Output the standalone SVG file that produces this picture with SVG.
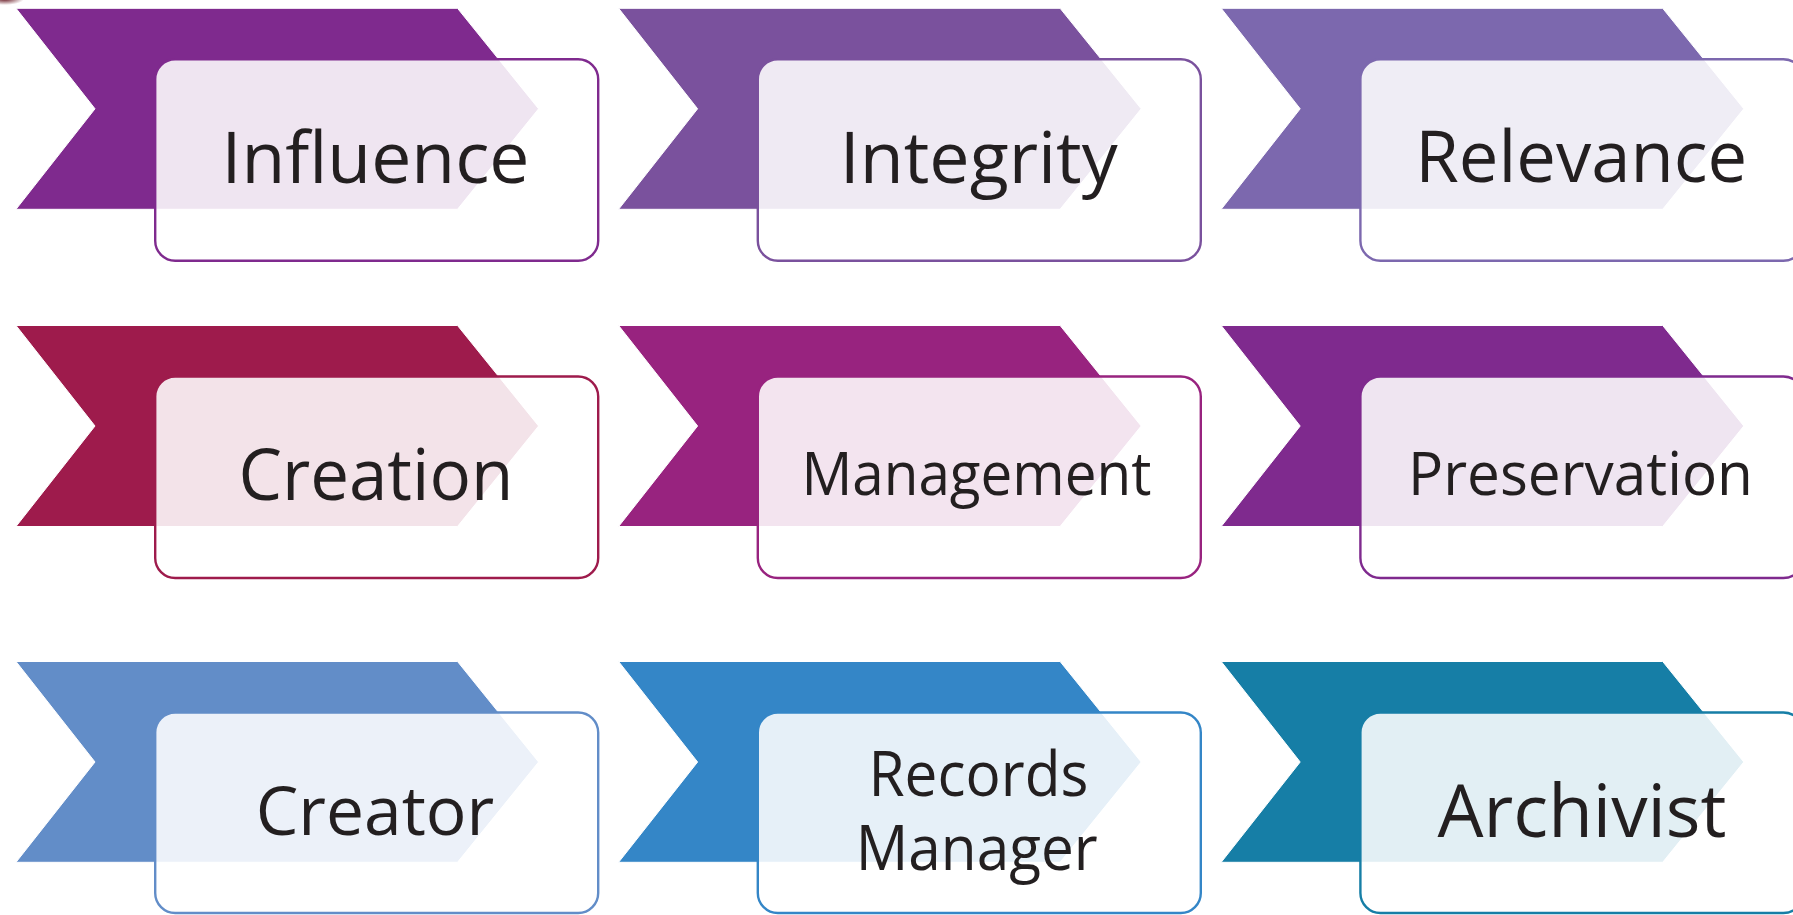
<svg xmlns="http://www.w3.org/2000/svg" width="1793" height="915" viewBox="0 0 1793 915">
<defs>
<style>
.chev{stroke:#ffffff;stroke-width:1}
.box{fill:#ffffff;fill-opacity:0.88;stroke-width:2.4}
.lbl{font-family:"Open Sans","Noto Sans","DejaVu Sans",sans-serif;fill:#231f20}
</style>
<radialGradient id="blob" cx="0.4" cy="0.3" r="0.6">
<stop offset="0" stop-color="#5e0b16" stop-opacity="0.95"/>
<stop offset="1" stop-color="#5e0b16" stop-opacity="0"/>
</radialGradient>
</defs>
<rect width="1793" height="915" fill="#ffffff"/>
<ellipse cx="8" cy="1" rx="16" ry="5" fill="url(#blob)"/>
<g id="connectors"/>

<g id="influence">
<polygon class="chev" fill="#7f2a8e" points="16,8.3 457.5,8.3 538.6,108.8 457.5,209.3 16,209.3 95,108.8"/>
<rect class="box" stroke="#7f2a8e" x="155.2" y="59.3" width="443" height="201.5" rx="20"/>
<text class="lbl" x="221.5" y="182.7" font-size="72" textLength="308" lengthAdjust="spacingAndGlyphs">Influence</text>
</g>

<g id="integrity">
<polygon class="chev" fill="#7a519d" points="618.6,8.3 1060.1,8.3 1141.2,108.8 1060.1,209.3 618.6,209.3 697.6,108.8"/>
<rect class="box" stroke="#7a519d" x="757.8" y="59.3" width="443" height="201.5" rx="20"/>
<text class="lbl" x="839.7" y="182.7" font-size="72" textLength="278" lengthAdjust="spacingAndGlyphs">Integrity</text>
</g>

<g id="relevance">
<polygon class="chev" fill="#7c68ae" points="1221.2,8.3 1662.7,8.3 1743.8,108.8 1662.7,209.3 1221.2,209.3 1300.2,108.8"/>
<rect class="box" stroke="#7c68ae" x="1360.4" y="59.3" width="443" height="201.5" rx="20"/>
<text class="lbl" x="1415.2" y="182.2" font-size="72" textLength="332" lengthAdjust="spacingAndGlyphs">Relevance</text>
</g>

<g id="creation">
<polygon class="chev" fill="#9e1b4c" points="16,325.5 457.5,325.5 538.6,426 457.5,526.5 16,526.5 95,426"/>
<rect class="box" stroke="#9e1b4c" x="155.2" y="376.5" width="443" height="201.5" rx="20"/>
<text class="lbl" x="238.4" y="500" font-size="72" textLength="275" lengthAdjust="spacingAndGlyphs">Creation</text>
</g>

<g id="management">
<polygon class="chev" fill="#98237f" points="618.6,325.5 1060.1,325.5 1141.2,426 1060.1,526.5 618.6,526.5 697.6,426"/>
<rect class="box" stroke="#98237f" x="757.8" y="376.5" width="443" height="201.5" rx="20"/>
<text class="lbl" x="801.4" y="495" font-size="60" textLength="350" lengthAdjust="spacingAndGlyphs">Management</text>
</g>

<g id="preservation">
<polygon class="chev" fill="#7f2a8e" points="1221.2,325.5 1662.7,325.5 1743.8,426 1662.7,526.5 1221.2,526.5 1300.2,426"/>
<rect class="box" stroke="#7f2a8e" x="1360.4" y="376.5" width="443" height="201.5" rx="20"/>
<text class="lbl" x="1408" y="495" font-size="60" textLength="345" lengthAdjust="spacingAndGlyphs">Preservation</text>
</g>

<g id="creator">
<polygon class="chev" fill="#628dc8" points="16,661.5 457.5,661.5 538.6,762 457.5,862.3 16,862.3 95,762"/>
<rect class="box" stroke="#628dc8" x="155.2" y="712.5" width="443" height="200.5" rx="20"/>
<text class="lbl" x="255.7" y="835" font-size="68" textLength="238.5" lengthAdjust="spacingAndGlyphs">Creator</text>
</g>

<g id="records-manager">
<polygon class="chev" fill="#3486c7" points="618.6,661.5 1060.1,661.5 1141.2,762 1060.1,862.3 618.6,862.3 697.6,762"/>
<rect class="box" stroke="#3486c7" x="757.8" y="712.5" width="443" height="200.5" rx="20"/>
<text class="lbl" font-size="62">
<tspan x="868.4" y="796" textLength="220" lengthAdjust="spacingAndGlyphs">Records</tspan>
<tspan x="855.7" y="870" textLength="242" lengthAdjust="spacingAndGlyphs">Manager</tspan>
</text>
</g>

<g id="archivist">
<polygon class="chev" fill="#167ea6" points="1221.2,661.5 1662.7,661.5 1743.8,762 1662.7,862.3 1221.2,862.3 1300.2,762"/>
<rect class="box" stroke="#167ea6" x="1360.4" y="712.5" width="443" height="200.5" rx="20"/>
<text class="lbl" x="1437.5" y="836.5" font-size="74" textLength="289" lengthAdjust="spacingAndGlyphs">Archivist</text>
</g>
</svg>
